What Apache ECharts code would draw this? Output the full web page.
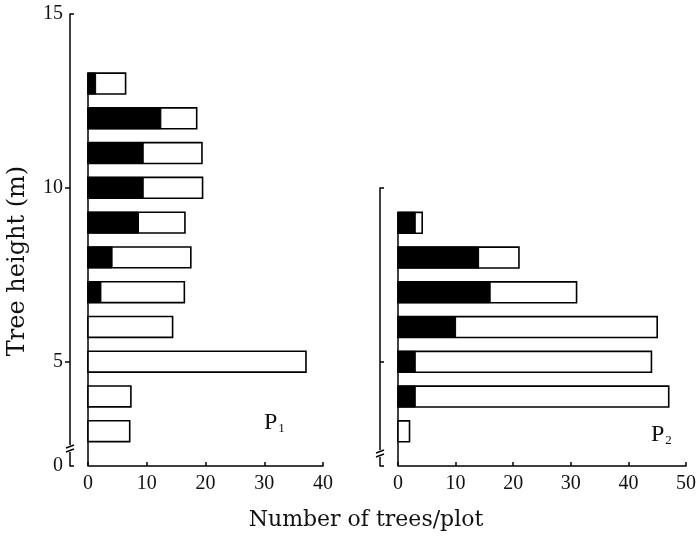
<!DOCTYPE html>
<html>
<head>
<meta charset="utf-8">
<script src="https://cdn.jsdelivr.net/npm/echarts@6/dist/echarts.min.js"></script>
<style>html,body{margin:0;padding:0;background:#fff}#c{width:699px;height:541px}</style>
</head>
<body>
<div id="c"></div>
<script>
// ---- data ----
var heightsP1 = [13, 12, 11, 10, 9, 8, 7, 6, 5, 4, 3];
var blackP1   = [1.3, 12.4, 9.4, 9.4, 8.6, 4.1, 2.2, 0, 0, 0, 0];
var totalP1   = [6.4, 18.5, 19.4, 19.5, 16.5, 17.5, 16.4, 14.4, 37.1, 7.3, 7.1];

var heightsP2 = [9, 8, 7, 6, 5, 4, 3];
var blackP2   = [3, 14, 16, 10, 3, 3, 0];
var totalP2   = [4.2, 21, 31, 45, 44, 47, 2];

var yTickLabelsP1 = [2, 5, 10, 15];   // value 2 sits at the axis break and is labelled "0"
var xTicksP1 = [0, 10, 20, 30, 40];
var xTicksP2 = [0, 10, 20, 30, 40, 50];

var panelLabels = ['P', '1', 'P', '2'];
var xTitle = 'Number of trees/plot';
var yTitle = 'Tree height (m)';

var FONT = '"Liberation Serif", "Times New Roman", serif';
var TFONT = '"DejaVu Serif", "Liberation Serif", serif';

function rows(h, b, t) { return h.map(function (v, i) { return [v, b[i], t[i]]; }); }

function renderBar(params, api) {
  var h = api.value(0), b = api.value(1), t = api.value(2);
  var p0 = api.coord([0, h]);
  var pt = api.coord([t, h]);
  var pb = api.coord([b, h]);
  var th = api.size([0, 0.6])[1];
  var children = [{
    type: 'rect',
    shape: { x: p0[0], y: p0[1] - th / 2, width: pt[0] - p0[0], height: th },
    style: { fill: '#fff', stroke: '#000', lineWidth: 1.6 }
  }];
  if (b > 0) {
    children.push({
      type: 'rect',
      shape: { x: p0[0], y: p0[1] - th / 2, width: pb[0] - p0[0], height: th },
      style: { fill: '#000', stroke: '#000', lineWidth: 1 }
    });
  }
  return { type: 'group', children: children };
}

var chart = echarts.init(document.getElementById('c'), null, { renderer: 'canvas' });

var axisLineStyle = { color: '#000', width: 1.5 };

var option = {
  animation: false,
  backgroundColor: '#fff',
  grid: [
    { left: 88, top: 14, width: 235, height: 452 },
    { left: 398, top: 188, width: 290, height: 278 }
  ],
  xAxis: [
    { gridIndex: 0, type: 'value', min: 0, max: 40, interval: 10,
      axisLine: { show: true, onZero: false, lineStyle: axisLineStyle },
      axisTick: { show: true, inside: true, length: 4, lineStyle: axisLineStyle },
      splitLine: { show: false },
      axisLabel: { fontFamily: FONT, fontSize: 20, color: '#111', margin: 8,
        customValues: xTicksP1 } },
    { gridIndex: 1, type: 'value', min: 0, max: 50, interval: 10,
      axisLine: { show: true, onZero: false, lineStyle: axisLineStyle },
      axisTick: { show: true, inside: true, length: 4, lineStyle: axisLineStyle },
      splitLine: { show: false },
      axisLabel: { fontFamily: FONT, fontSize: 20, color: '#111', margin: 8,
        customValues: xTicksP2 } }
  ],
  yAxis: [
    { gridIndex: 0, type: 'value', position: 'left', min: 2, max: 15, offset: 18,
      axisLine: { show: true, onZero: false, lineStyle: axisLineStyle },
      axisTick: { show: true, inside: false, length: 5, lineStyle: axisLineStyle, customValues: [5, 10] },
      splitLine: { show: false },
      axisLabel: { fontFamily: FONT, fontSize: 20, color: '#111', margin: 7,
        customValues: yTickLabelsP1,
        formatter: function (v) { return v === 2 ? '0' : String(v); } } },
    { gridIndex: 0, type: 'value', position: 'left', min: 2, max: 15, offset: 18,
      axisLine: { show: false, onZero: false },
      axisTick: { show: true, inside: true, length: 4, lineStyle: axisLineStyle, customValues: [2, 15] },
      splitLine: { show: false },
      axisLabel: { show: false } },
    { gridIndex: 1, type: 'value', position: 'left', min: 2, max: 10, offset: 18,
      axisLine: { show: true, onZero: false, lineStyle: axisLineStyle },
      axisTick: { show: true, inside: true, length: 4, lineStyle: axisLineStyle, customValues: [2, 5, 10] },
      splitLine: { show: false },
      axisLabel: { show: false } }
  ],
  series: [
    { type: 'custom', xAxisIndex: 0, yAxisIndex: 0, renderItem: renderBar,
      encode: { x: [1, 2], y: 0 }, data: rows(heightsP1, blackP1, totalP1), z: 3 },
    { type: 'custom', xAxisIndex: 1, yAxisIndex: 2, renderItem: renderBar,
      encode: { x: [1, 2], y: 0 }, data: rows(heightsP2, blackP2, totalP2), z: 3 },
    { type: 'line', xAxisIndex: 0, yAxisIndex: 0, symbol: 'none', silent: true, z: 2,
      lineStyle: { color: '#000', width: 1.5 },
      data: [[0, 2], [0, heightsP1[0] + 0.3]] },
    { type: 'line', xAxisIndex: 1, yAxisIndex: 2, symbol: 'none', silent: true, z: 2,
      lineStyle: { color: '#000', width: 1.5 },
      data: [[0, 2], [0, heightsP2[0] + 0.3]] }
  ]
};
chart.setOption(option);

// decorations: axis titles, panel labels and break marks
var a = chart.convertToPixel({ gridIndex: 0 }, [0, 2]);
var b = chart.convertToPixel({ gridIndex: 1 }, [0, 2]);
var axL = a[0] - 18, axR = b[0] - 18, yb = a[1];

function breakMark(x, y) {
  return [
    { type: 'rect', shape: { x: x - 5, y: y - 5, width: 10, height: 7 }, style: { fill: '#fff' }, z: 10 },
    { type: 'line', shape: { x1: x - 4, y1: y - 2, x2: x + 4, y2: y - 5 }, style: { stroke: '#000', lineWidth: 1.4 }, z: 11 },
    { type: 'line', shape: { x1: x - 4, y1: y + 2, x2: x + 4, y2: y - 1 }, style: { stroke: '#000', lineWidth: 1.4 }, z: 11 }
  ];
}

var graphics = [
  { type: 'text', x: 18, y: 261, rotation: Math.PI / 2,
    style: { text: yTitle, font: '24px ' + TFONT, fill: '#111', align: 'center', verticalAlign: 'middle' } },
  { type: 'text', x: 366, y: 520,
    style: { text: xTitle, font: '22px ' + TFONT, fill: '#111', align: 'center', verticalAlign: 'middle' } },
  { type: 'text', x: 264, y: 411,
    style: { text: '{p|' + panelLabels[0] + '}{s|' + panelLabels[1] + '}',
      rich: { p: { fontFamily: FONT, fontSize: 24, fill: '#111', verticalAlign: 'bottom' },
              s: { fontFamily: FONT, fontSize: 13, fill: '#111', verticalAlign: 'bottom', padding: [0, 0, 0, 1] } } } },
  { type: 'text', x: 651, y: 423,
    style: { text: '{p|' + panelLabels[2] + '}{s|' + panelLabels[3] + '}',
      rich: { p: { fontFamily: FONT, fontSize: 24, fill: '#111', verticalAlign: 'bottom' },
              s: { fontFamily: FONT, fontSize: 13, fill: '#111', verticalAlign: 'bottom', padding: [0, 0, 0, 1] } } } }
].concat(breakMark(axL, yb - 16)).concat(breakMark(axR, yb - 11));

chart.setOption({ graphic: graphics });
</script>
</body>
</html>
